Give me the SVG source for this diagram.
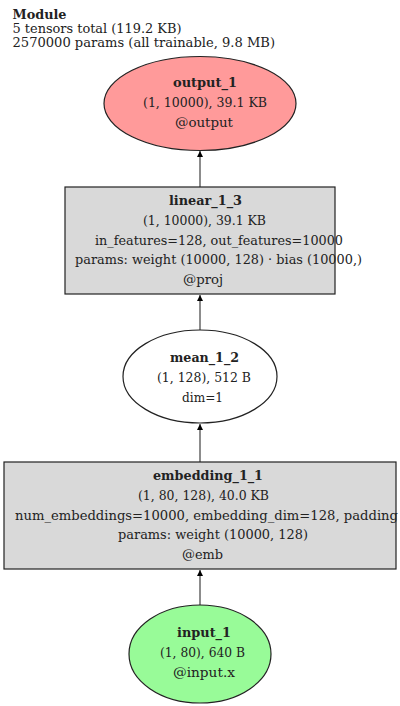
<svg xmlns="http://www.w3.org/2000/svg" width="400" height="706" viewBox="0 0 400 706">
<style>
text{font-family:"DejaVu Serif","Liberation Serif",serif;font-size:13.5px;fill:#222}
#header text{font-size:12.8px}
.b{font-weight:bold}
.node{stroke:#222;stroke-width:1.2}
.edge{stroke:#666;stroke-width:1.5;fill:none}
</style>
<defs>
<marker id="ah" viewBox="0 0 10 10" refX="10" refY="5" markerWidth="6" markerHeight="9" markerUnits="userSpaceOnUse" orient="auto">
<path d="M0,0 L10,5 L0,10 z" fill="#000"/>
</marker>
</defs>
<rect width="400" height="706" fill="#fff"/>
<g id="header">
<text x="12.5" y="18.5" class="b" textLength="54" lengthAdjust="spacingAndGlyphs">Module</text>
<text x="12.5" y="33" textLength="169" lengthAdjust="spacingAndGlyphs">5 tensors total (119.2 KB)</text>
<text x="12.5" y="47" textLength="262.5" lengthAdjust="spacingAndGlyphs">2570000 params (all trainable, 9.8 MB)</text>
</g>
<g id="connectors">
<line class="edge" x1="200" y1="187" x2="200" y2="151" marker-end="url(#ah)"/>
<line class="edge" x1="200" y1="330" x2="200" y2="295" marker-end="url(#ah)"/>
<line class="edge" x1="200" y1="462" x2="200" y2="424" marker-end="url(#ah)"/>
<line class="edge" x1="200" y1="605" x2="200" y2="570" marker-end="url(#ah)"/>
</g>
<g id="output_1">
<ellipse class="node" cx="200" cy="103.5" rx="96" ry="47" fill="#ff9a9a"/>
<text x="173" y="86.5" class="b" textLength="64" lengthAdjust="spacingAndGlyphs">output_1</text>
<text x="143" y="107" textLength="124" lengthAdjust="spacingAndGlyphs">(1, 10000), 39.1 KB</text>
<text x="175" y="126.5" textLength="58" lengthAdjust="spacingAndGlyphs">@output</text>
</g>
<g id="linear_1_3">
<rect class="node" x="65" y="187" width="270" height="107" fill="#d9d9d9"/>
<text x="169" y="205" class="b" textLength="73" lengthAdjust="spacingAndGlyphs">linear_1_3</text>
<text x="143" y="225" textLength="123" lengthAdjust="spacingAndGlyphs">(1, 10000), 39.1 KB</text>
<text x="95" y="244.5" textLength="248" lengthAdjust="spacingAndGlyphs">in_features=128, out_features=10000</text>
<text x="75" y="264" textLength="287" lengthAdjust="spacingAndGlyphs">params: weight (10000, 128) · bias (10000,)</text>
<text x="183" y="283.5" textLength="40" lengthAdjust="spacingAndGlyphs">@proj</text>
</g>
<g id="mean_1_2">
<ellipse class="node" cx="200" cy="376.5" rx="77" ry="46.5" fill="#fff"/>
<text x="170" y="362" class="b" textLength="69" lengthAdjust="spacingAndGlyphs">mean_1_2</text>
<text x="157" y="382" textLength="94" lengthAdjust="spacingAndGlyphs">(1, 128), 512 B</text>
<text x="182" y="401.5" textLength="41" lengthAdjust="spacingAndGlyphs">dim=1</text>
</g>
<g id="embedding_1_1">
<rect class="node" x="4" y="462" width="392" height="107" fill="#d9d9d9"/>
<text x="153" y="480" class="b" textLength="110" lengthAdjust="spacingAndGlyphs">embedding_1_1</text>
<text x="138" y="500" textLength="131" lengthAdjust="spacingAndGlyphs">(1, 80, 128), 40.0 KB</text>
<text x="15" y="519.5" textLength="383" lengthAdjust="spacingAndGlyphs">num_embeddings=10000, embedding_dim=128, padding</text>
<text x="118" y="539" textLength="190" lengthAdjust="spacingAndGlyphs">params: weight (10000, 128)</text>
<text x="182" y="558.5" textLength="41" lengthAdjust="spacingAndGlyphs">@emb</text>
</g>
<g id="input_1">
<ellipse class="node" cx="200" cy="654" rx="71" ry="49" fill="#98fb98"/>
<text x="177" y="637" class="b" textLength="54" lengthAdjust="spacingAndGlyphs">input_1</text>
<text x="160" y="657" textLength="85" lengthAdjust="spacingAndGlyphs">(1, 80), 640 B</text>
<text x="173" y="676.5" textLength="62" lengthAdjust="spacingAndGlyphs">@input.x</text>
</g>
</svg>
